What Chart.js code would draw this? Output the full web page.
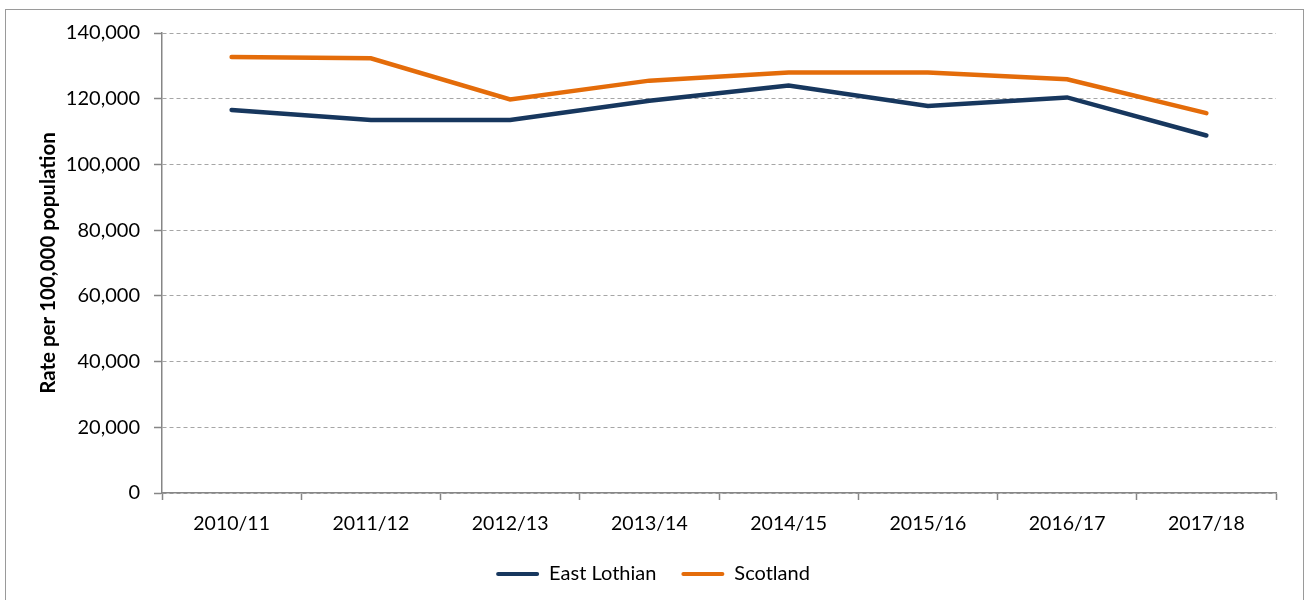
<!DOCTYPE html>
<html>
<head>
<meta charset="utf-8">
<script src="https://cdn.jsdelivr.net/npm/chart.js@4.4.1/dist/chart.umd.min.js"></script>
<style>
  html, body { margin: 0; padding: 0; background: #fff; overflow: hidden; }
  #frame { position: absolute; left: 5px; top: 9px; width: 1297px; height: 640px; border: 1px solid #9a9a9a; }
  #wrap { position: absolute; left: 0; top: 0; width: 1306px; height: 600px; }
</style>
</head>
<body>
<div id="frame"></div>
<div id="wrap"><canvas id="chart"></canvas></div>
<script>
// data
var years = ['2010/11', '2011/12', '2012/13', '2013/14', '2014/15', '2015/16', '2016/17', '2017/18'];
var eastLothian = [116600, 113500, 113500, 119400, 124000, 117800, 120400, 108800];
var scotland = [132700, 132300, 119800, 125500, 128000, 128000, 125900, 115600];
var yMin = 0, yMax = 140000, yStep = 20000;

var navy = '#17375E';
var orange = '#E46C0A';
var axisGrey = '#868686';
var font = "Lato, 'Open Sans', sans-serif";

var ctx = document.getElementById('chart').getContext('2d');
new Chart(ctx, {
  type: 'line',
  data: {
    labels: years,
    datasets: [
      { label: 'East Lothian', data: eastLothian, borderColor: navy, backgroundColor: navy, borderWidth: 4.5, pointRadius: 0, borderCapStyle: 'round', tension: 0 },
      { label: 'Scotland', data: scotland, borderColor: orange, backgroundColor: orange, borderWidth: 4.5, pointRadius: 0, borderCapStyle: 'round', tension: 0 }
    ]
  },
  options: {
    responsive: true,
    maintainAspectRatio: false,
    animation: false,
    layout: { padding: { top: 33, right: 30, left: 30, bottom: 6 } },
    plugins: {
      tooltip: { enabled: false },
      legend: {
        position: 'bottom',
        labels: {
          color: '#000',
          font: { family: font, size: 20 },
          boxWidth: 43,
          boxHeight: 4,
          padding: 25,
          useBorderRadius: true,
          borderRadius: 2,
          generateLabels: function (chart) {
            var items = Chart.defaults.plugins.legend.labels.generateLabels(chart);
            items.forEach(function (it) { it.lineWidth = 0; it.strokeStyle = 'rgba(0,0,0,0)'; });
            return items;
          }
        }
      }
    },
    scales: {
      x: {
        offset: true,
        grid: { offset: true, drawOnChartArea: false, drawTicks: true, tickLength: 7, tickColor: axisGrey, tickWidth: 1.5 },
        border: { color: axisGrey, width: 1.5 },
        ticks: { color: '#000', font: { family: font, size: 19.5 }, padding: 12, maxRotation: 0 },
        afterFit: function (s) { s.height = 46; }
      },
      y: {
        min: yMin,
        max: yMax,
        ticks: {
          stepSize: yStep,
          color: '#000',
          font: { family: font, size: 20 },
          padding: 14,
          callback: function (v) { return v.toLocaleString('en-GB'); }
        },
        grid: { color: '#a6a6a6', lineWidth: 1, tickLength: 8, tickColor: axisGrey, tickWidth: 1.5, tickBorderDash: [] },
        border: { color: axisGrey, width: 1.5, dash: [4, 3] },
        title: {
          display: true,
          text: 'Rate per 100,000 population',
          color: '#000',
          font: { family: font, size: 20.5, weight: 'bold' },
          padding: { top: 6, bottom: 0 }
        },
        afterFit: function (s) { s.width = 132; }
      }
    }
  }
});
</script>
</body>
</html>
